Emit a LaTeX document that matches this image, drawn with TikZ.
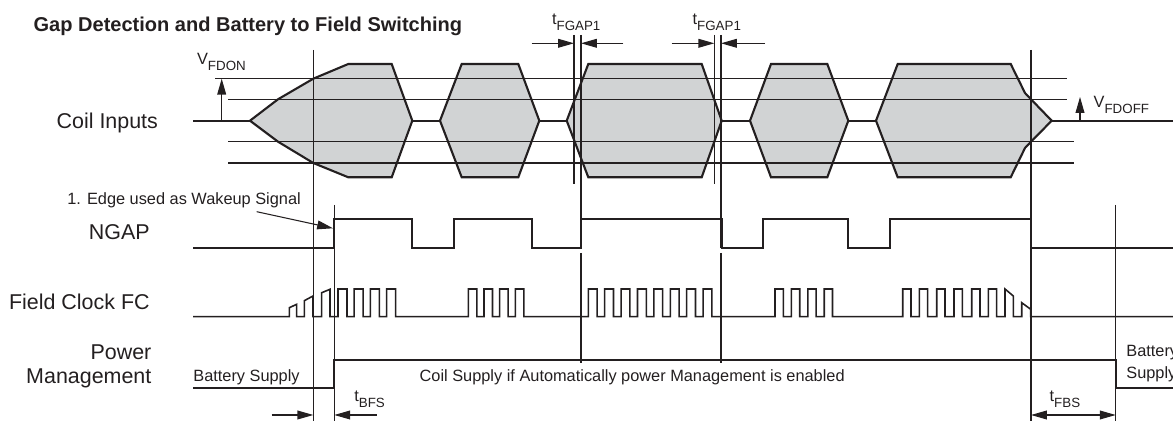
\documentclass[tikz,border=0pt]{standalone}
\usepackage{fontspec}
\setmainfont{Liberation Sans}
\usetikzlibrary{arrows.meta}
\definecolor{coilgrey}{RGB}{209,211,212}
\definecolor{ink}{RGB}{35,31,32}
\newcommand\tsub[2]{#1\raisebox{-3.4pt}{\fontsize{7.6}{8}\selectfont #2}}
\begin{document}
\begin{tikzpicture}[x=0.02cm,y=-0.02cm,
  sigline/.style={draw=ink,line width=1.2pt,line join=miter},
  thinline/.style={draw=ink,line width=0.6pt},
  clkline/.style={draw=ink,line width=0.9pt,line join=miter},
  coilshape/.style={draw=ink,fill=coilgrey,line width=1.2pt,line join=miter},
  arr/.style={draw=ink,line width=0.6pt,-{Triangle[length=9pt,width=5pt]}},
  dblarr/.style={draw=ink,line width=0.6pt,{Triangle[length=9pt,width=5pt]}-{Triangle[length=9pt,width=5pt]}},
  lbl/.style={font=\fontsize{12.2}{14}\selectfont,inner sep=0pt,text=ink},
  small/.style={font=\fontsize{9.3}{11}\selectfont,inner sep=0pt,text=ink},
  titletext/.style={font=\bfseries\fontsize{11.4}{13}\selectfont,inner sep=0pt,text=ink}]
\useasboundingbox (0,0) rectangle (1173,421);

% ---------- labels ----------
\node[titletext,anchor=base west] (title) at (33.3,31.5) {Gap Detection and Battery to Field Switching};
\node[lbl,anchor=base east] (coil) at (158.3,128.5) {Coil Inputs};
\node[lbl,anchor=base east] (ngap) at (150,240) {NGAP};
\node[lbl,anchor=base east] (fc) at (150,310) {Field Clock FC};
\node[lbl,anchor=base east] (pm1) at (151.7,359.3) {Power};
\node[lbl,anchor=base east] (pm2) at (151.7,384) {Management};

% ---------- coil input envelopes ----------
\draw[coilshape] (250,120.7) -- (278,99.3) -- (313.3,78.7) -- (348.3,64) -- (391.7,64) -- (412.3,120.7)
  -- (391.7,177.3) -- (348.3,177.3) -- (313.3,163) -- (278,141.7) -- cycle;
\draw[coilshape] (440,120.7) -- (461.7,64) -- (518.3,64) -- (539.3,120.7) -- (518.3,177.3) -- (461.7,177.3) -- cycle;
\draw[coilshape] (566.7,120.7) -- (588.3,64) -- (701.7,64) -- (721.7,120.7) -- (701.7,177.3) -- (588.3,177.3) -- cycle;
\draw[coilshape] (750,120.7) -- (771,64) -- (827.3,64) -- (848.3,120.7) -- (827.3,177.3) -- (771,177.3) -- cycle;
\draw[coilshape] (876,120.7) -- (897.7,64) -- (1010.7,64) -- (1025,93) -- (1031,99.3) -- (1051.7,120.7)
  -- (1031,141.7) -- (1025,148) -- (1010.7,177.3) -- (897.7,177.3) -- cycle;
% centre (zero) line pieces
\draw[sigline] (193,120.7) -- (250,120.7);
\draw[sigline] (412.3,120.7) -- (440,120.7);
\draw[sigline] (539.3,120.7) -- (566.7,120.7);
\draw[sigline] (721.7,120.7) -- (750,120.7);
\draw[sigline] (848.3,120.7) -- (876,120.7);
\draw[sigline] (1051.7,120.7) -- (1173,120.7);
% threshold levels
\draw[thinline] (215,78.7) -- (1067,78.7);
\draw[thinline] (228,99.3) -- (1067,99.3);
\draw[thinline] (228,141.7) -- (1074,141.7);
\draw[thinline] (228,163) -- (1074,163);

% threshold arrows
\coordinate (vonA) at (221.7,120.7);
\coordinate (vonB) at (221.7,78.7);
\draw[arr] (vonA) -- (vonB);
\node[small,anchor=base west] (vfdon) at (196.7,65) {\tsub{V}{FDON}};
\coordinate (voffA) at (1080,120.7);
\coordinate (voffB) at (1080,97);
\draw[arr] (voffA) -- (voffB);
\node[small,anchor=base west] (vfdoff) at (1093.3,107.3) {\tsub{V}{FDOFF}};

% ---------- vertical reference lines ----------
\draw[thinline] (313.3,50) -- (313.3,421);
\draw[thinline] (334.3,205) -- (334.3,421);
\draw[thinline] (574,35) -- (574,184);
\draw[thinline] (581,35) -- (581,248);
\draw[thinline] (581,253) -- (581,363);
\draw[thinline] (714.3,35) -- (714.3,184);
\draw[thinline] (721,35) -- (721,248);
\draw[thinline] (721,253) -- (721,363);
\draw[thinline] (1031,50) -- (1031,421);
\draw[thinline] (1115.7,205) -- (1115.7,421);

% t_FGAP1 markers
\coordinate (g1a) at (531.7,43.3); \coordinate (g1b) at (574,43.3);
\coordinate (g1c) at (623.3,43.3); \coordinate (g1d) at (581,43.3);
\draw[arr] (g1a) -- (g1b);
\draw[arr] (g1c) -- (g1d);
\node[small,anchor=base west] (tg1) at (551.7,25) {\tsub{t}{FGAP1}};
\coordinate (g2a) at (671.7,43.3); \coordinate (g2b) at (714.3,43.3);
\coordinate (g2c) at (765,43.3); \coordinate (g2d) at (721,43.3);
\draw[arr] (g2a) -- (g2b);
\draw[arr] (g2c) -- (g2d);
\node[small,anchor=base west] (tg2) at (692.3,25) {\tsub{t}{FGAP1}};

% ---------- NGAP ----------
\draw[sigline] (193,247.7) -- (334.3,247.7) -- (334.3,219.3) -- (412.3,219.3) -- (412.3,247.7)
  -- (454,247.7) -- (454,219.3) -- (532.3,219.3) -- (532.3,247.7) -- (581,247.7) -- (581,219.3)
  -- (721.7,219.3) -- (721.7,247.7) -- (763.3,247.7) -- (763.3,219.3) -- (848.3,219.3) -- (848.3,247.7)
  -- (890,247.7) -- (890,219.3) -- (1031,219.3) -- (1031,247.7) -- (1173,247.7);
\node[small,anchor=base west] (wake) at (67,205) {1. Edge used as Wakeup Signal};
\coordinate (wakeTip) at (333,228.3);
\draw[arr] (256.7,211.7) -- (wakeTip);

% ---------- Field clock ----------
\draw[clkline] (193,316.7) -- (289.3,316.7) -- (289.3,307.7) -- (296.7,304.3) -- (296.7,316.7)
  -- (304.3,316.7) -- (304.3,300.7) -- (313,296) -- (313,316.7)
  -- (321.7,316.7) -- (321.7,292.7) -- (330,289.3) -- (330,316.7)
  \foreach \r in {338,354.2,370.4,386.6} { -- (\r,316.7) -- (\r,289) -- ({\r+9},289) -- ({\r+9},316.7) }
  \foreach \r in {468.3,484,499.6,515.3} { -- (\r,316.7) -- (\r,289) -- ({\r+8.5},289) -- ({\r+8.5},316.7) }
  \foreach \r in {588.3,604.7,621.1,637.5,653.9,670.3,686.7,703.1} { -- (\r,316.7) -- (\r,289) -- ({\r+8.8},289) -- ({\r+8.8},316.7) }
  \foreach \r in {775,791.4,807.8,824.2} { -- (\r,316.7) -- (\r,289) -- ({\r+8.3},289) -- ({\r+8.3},316.7) }
  \foreach \r in {902.7,919.3,936.7,954,971.7,988.3} { -- (\r,316.7) -- (\r,289) -- ({\r+8.3},289) -- ({\r+8.3},316.7) }
  -- (1005,316.7) -- (1005,289) -- (1013.3,296) -- (1013.3,316.7)
  -- (1021.7,316.7) -- (1021.7,302.7) -- (1030.7,309.3) -- (1030.7,316.7) -- (1173,316.7);

% ---------- Power management ----------
\draw[sigline] (193,387.7) -- (334.3,387.7) -- (334.3,360) -- (1115.7,360) -- (1115.7,387.7) -- (1173,387.7);
\node[small,anchor=base west] (bat1) at (193,381.7) {Battery Supply};
\node[small,anchor=base west] (coilsup) at (419.3,381.7) {Coil Supply if Automatically power Management is enabled};
\node[small,anchor=base west] (bat2a) at (1126,356.7) {Battery};
\node[small,anchor=base west] (bat2b) at (1126,378.3) {Supply};

% t_BFS / t_FBS
\coordinate (b1a) at (271.7,415); \coordinate (b1b) at (313.3,415);
\coordinate (b1c) at (376.7,415); \coordinate (b1d) at (334.3,415);
\draw[arr] (b1a) -- (b1b);
\draw[arr] (b1c) -- (b1d);
\node[small,anchor=base west] (tbfs) at (354,401.7) {\tsub{t}{BFS}};
\coordinate (f1a) at (1031,415); \coordinate (f1b) at (1115.7,415);
\draw[dblarr] (f1a) -- (f1b);
\node[small,anchor=base west] (tfbs) at (1049.3,401.7) {\tsub{t}{FBS}};
\end{tikzpicture}
\end{document}
